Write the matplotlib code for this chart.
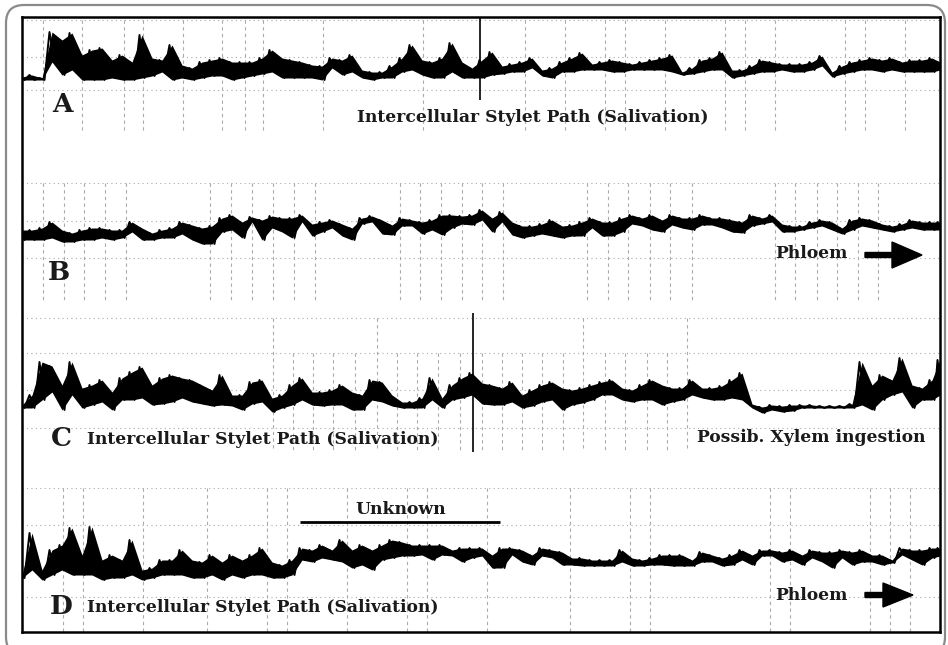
import numpy as np
import matplotlib.pyplot as plt
from matplotlib.patches import FancyBboxPatch

# sample positions along the recording (pixel columns of the scan)
t = list(range(22, 941, 10)) + [940]

# trace envelopes (upper / lower edge of the black band)
a_top = [77, 75, 78, 32, 40, 33, 55, 50, 48, 60, 55, 62, 35, 58, 60, 45, 65, 68, 62, 60,
         58, 62, 62, 62, 58, 50, 58, 60, 62, 65, 66, 58, 60, 55, 70, 72, 72, 66, 58, 45,
         60, 62, 58, 43, 62, 68,
         60, 52, 66, 64, 62, 58, 70, 68, 62, 58, 53, 64, 62, 60, 62, 64, 62, 60, 58, 55,
         72, 68, 60, 58, 52, 70, 70, 66, 60, 62, 64, 64, 64, 62, 56, 72, 66, 62, 60, 58,
         60, 58, 62, 60, 60, 58, 62]
a_bot = [80, 80, 80, 62, 75, 70, 80, 80, 80, 78, 80, 80, 78, 76, 72, 80, 78, 80, 78, 76,
         76, 80, 78, 76, 74, 72, 78, 78, 78, 78, 80, 68, 75, 72, 78, 80, 78, 78, 72, 70,
         75, 78, 78, 72, 78, 78,
         78, 75, 74, 72, 72, 68, 76, 78, 72, 72, 70, 70, 70, 72, 72, 70, 70, 70, 70, 72,
         75, 74, 72, 70, 70, 78, 76, 74, 72, 72, 70, 72, 72, 70, 66, 77, 74, 72, 70, 70,
         72, 70, 72, 72, 72, 72, 70]

b_top = [230, 230, 228, 222, 230, 233, 230, 228, 228, 230, 230, 222, 228, 233, 230, 228, 222, 225, 228, 226,
         218, 215, 222, 217, 220, 216, 218, 218, 215, 224, 222, 220, 224, 228, 218, 216, 220, 225, 218, 220,
         222, 220, 215, 215, 216, 215,
         210, 218, 212, 222, 226, 226, 224, 220, 226, 225, 222, 218, 222, 222, 218, 215, 218, 215, 220, 215,
         218, 218, 215, 218, 218, 220, 222, 215, 218, 215, 224, 226, 226, 222, 220, 222, 228, 220, 218, 220,
         224, 226, 224, 220, 222, 222, 222]
b_bot = [240, 240, 240, 238, 242, 242, 240, 240, 238, 240, 238, 232, 240, 240, 238, 238, 234, 240, 244, 244,
         232, 230, 238, 222, 240, 228, 232, 238, 222, 236, 232, 228, 236, 240, 224, 222, 234, 235, 226, 226,
         234, 230, 235, 228, 224, 225,
         220, 232, 222, 235, 238, 236, 234, 236, 238, 236, 236, 228, 236, 236, 232, 224, 226, 230, 232, 225,
         228, 230, 225, 225, 228, 232, 233, 226, 224, 222, 232, 232, 230, 228, 226, 230, 234, 230, 226, 228,
         230, 232, 230, 228, 230, 230, 230]

c_top = [405, 395, 362, 366, 385, 362, 388, 385, 380, 392, 378, 372, 367, 385, 378, 375, 378, 380, 385, 390,
         375, 395, 395, 382, 380, 398, 395, 385, 378, 392, 392, 390, 385, 392, 395, 380, 382, 395, 402, 402,
         398, 378, 398, 385, 378, 373,
         383, 385, 388, 382, 395, 390, 385, 382, 388, 390, 388, 385, 382, 380, 388, 390, 385, 380, 385, 388,
         388, 380, 388, 388, 386, 380, 373, 404, 407, 405, 406, 405, 405, 405, 406, 406, 406, 404, 362, 385,
         375, 380, 358, 385, 388, 380, 360]
c_bot = [408, 408, 400, 392, 410, 395, 408, 405, 402, 410, 400, 400, 398, 405, 404, 402, 398, 402, 404, 406,
         405, 406, 410, 404, 402, 412, 408, 405, 400, 405, 406, 405, 405, 410, 410, 400, 402, 406, 408, 408,
         408, 400, 408, 400, 398, 395,
         404, 405, 405, 402, 408, 406, 402, 400, 410, 405, 403, 400, 395, 395, 400, 402, 400, 400, 405, 402,
         400, 395, 398, 400, 400, 398, 400, 408, 413, 410, 412, 411, 408, 408, 408, 408, 408, 408, 405, 410,
         400, 395, 392, 408, 400, 400, 395]

d_top = [575, 533, 570, 550, 545, 528, 555, 527, 560, 555, 560, 540, 570, 568, 560, 560, 550, 560, 562, 555,
         562, 555, 560, 555, 548, 562, 565, 560, 548, 550, 545, 550, 540, 550, 545, 550, 545, 540, 542, 545,
         545, 545, 545, 550, 548, 548,
         548, 555, 548, 548, 550, 555, 548, 550, 552, 558, 558, 560, 560, 560, 550, 558, 560, 558, 555, 555,
         555, 560, 552, 555, 558, 555, 550, 555, 550, 550, 552, 550, 555, 550, 552, 552, 550, 552, 550, 555,
         555, 560, 548, 550, 550, 548, 548]
d_bot = [578, 570, 580, 575, 570, 575, 575, 575, 580, 578, 578, 575, 580, 578, 575, 575, 575, 578, 578, 575,
         580, 575, 578, 575, 575, 578, 578, 575, 560, 562, 558, 560, 562, 568, 565, 570, 560, 558, 556, 556,
         555, 560, 555, 556, 562, 558,
         556, 568, 568, 555, 562, 565, 556, 558, 565, 565, 566, 566, 566, 566, 562, 566, 566, 565, 565, 566,
         566, 566, 562, 562, 566, 565, 560, 565, 556, 556, 562, 560, 565, 558, 562, 568, 558, 565, 562, 562,
         565, 563, 555, 560, 565, 558, 556]

traces = [(a_top, a_bot), (b_top, b_bot), (c_top, c_bot), (d_top, d_bot)]

panel_letters = ["A", "B", "C", "D"]
salivation = "Intercellular Stylet Path (Salivation)"

# grid paper of the chart recorder
h_grid = [20, 57, 90, 183, 221, 258, 318, 353, 390, 428, 488, 525, 597]
v_grid = {
    (20, 130): [43, 82, 124, 143, 183, 222, 245, 263, 323, 423, 525, 565, 605, 625, 665, 725, 745, 775, 845, 865, 905],
    (183, 300): [43, 64, 84, 105, 126, 210, 231, 252, 273, 294, 315, 400, 420, 441, 462, 482, 503, 587, 608, 628,
                 650, 670, 692, 775, 795, 817, 837, 858, 878],
    (318, 450): [273, 377, 583, 687],
    (353, 450): [293, 313, 333, 355, 397, 417, 438, 460, 482, 502, 522, 542, 563, 605, 625, 647, 667],
    (488, 632): [63, 83, 143, 207, 267, 287, 347, 407, 427, 487, 570, 630, 650, 770, 790, 870, 890, 910],
}

fig = plt.figure(figsize=(9.48, 6.45), dpi=100)

# outer rounded frame
bg = fig.add_axes([0, 0, 1, 1])
bg.set_xlim(0, 948)
bg.set_ylim(645, 0)
bg.axis("off")
bg.add_patch(FancyBboxPatch((6, 5), 939, 650, boxstyle="round,pad=0,rounding_size=18",
                            fc="white", ec="#8a8a8a", lw=1.6))

ax = fig.add_axes([22 / 948, 1 - 632 / 645, 918 / 948, 615 / 645])
ax.set_xlim(22, 940)
ax.set_ylim(632, 17)
ax.set_xticks([])
ax.set_yticks([])
for s in ax.spines.values():
    s.set_linewidth(1.8)

for y in h_grid:
    ax.axhline(y, color="#ababab", lw=0.8, ls=(0, (1, 3)), zorder=1)
for (y0, y1), xs in v_grid.items():
    ax.vlines(xs, y0, y1, color="#ababab", lw=0.8, ls=(0, (3, 3)), zorder=1)

# each column is drawn as a stroke going from the upper to the lower edge,
# which gives the jagged look of the pen trace
tt = np.array(t, dtype=float)
zx = np.ravel(np.column_stack([tt - 2.5, tt + 2.5]))
for top, bot in traces:
    ax.fill_between(t, top, bot, color="black", lw=0, zorder=3)
    zy = np.ravel(np.column_stack([top, bot]))
    ax.plot(zx, zy, color="black", lw=1.4, zorder=3)

# event markers
ax.vlines(480, 17, 100, color="black", lw=1.2, zorder=4)
ax.vlines(473, 313, 452, color="black", lw=1.2, zorder=4)

font = dict(family="DejaVu Serif", weight="bold", color="#1a1a1a")
for letter, (x, y) in zip(panel_letters, [(62, 104), (59, 272), (61, 438), (61, 607)]):
    ax.text(x, y, letter, fontsize=19, ha="center", va="center", **font, zorder=5)

fs = 12.3
ax.text(533, 118, salivation, fontsize=fs, ha="center", va="center", **font)
ax.text(87, 439, salivation, fontsize=fs, ha="left", va="center", **font)
ax.text(87, 608, salivation, fontsize=fs, ha="left", va="center", **font)
ax.text(925, 438, "Possib. Xylem ingestion", fontsize=fs, ha="right", va="center", **font)
ax.text(811, 254, "Phloem", fontsize=fs, ha="center", va="center", **font)
ax.text(811, 595, "Phloem", fontsize=fs, ha="center", va="center", **font)
ax.text(401, 509, "Unknown", fontsize=fs, ha="center", va="center", **font)
ax.hlines(522, 300, 500, color="black", lw=2)

ax.arrow(865, 255, 57, 0, width=5, head_width=26, head_length=30,
         length_includes_head=True, color="black", zorder=5)
ax.arrow(865, 595, 48, 0, width=5, head_width=24, head_length=30,
         length_includes_head=True, color="black", zorder=5)

fig.savefig("out.png", dpi=100)
